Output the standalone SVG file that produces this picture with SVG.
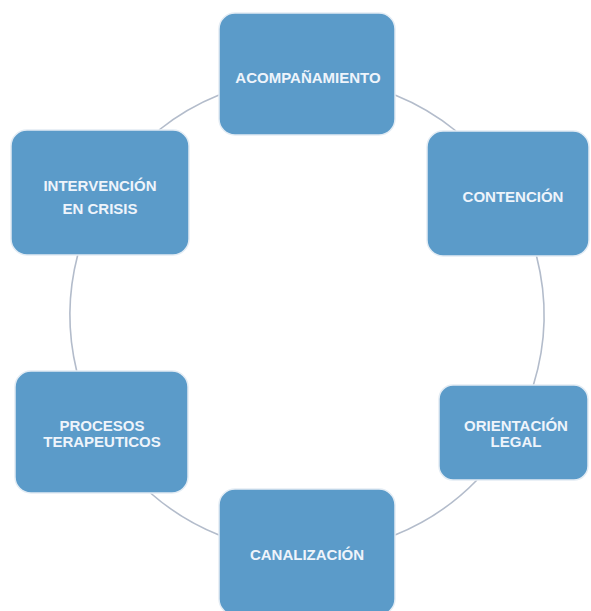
<svg xmlns="http://www.w3.org/2000/svg" width="591" height="611" viewBox="0 0 591 611">
  <style>
    .box { fill: #5b9bc9; stroke: #e3ecf4; stroke-width: 1.5; }
    .lbl { font-family: "Liberation Sans", Arial, sans-serif; font-weight: bold; font-size: 15px; fill: #eef4fb; text-anchor: middle; dominant-baseline: central; }
    .arc { fill: none; stroke: #b3bccb; stroke-width: 1.6; }
  </style>
  <rect width="591" height="611" fill="#ffffff"/>
  <g id="connectors">
    <path class="arc" d="M159,130 A237,237 0 0 1 219,95"/>
    <path class="arc" d="M395,95 A237,237 0 0 1 456,131"/>
    <path class="arc" d="M536.5,256 A237,237 0 0 1 533.4,385"/>
    <path class="arc" d="M477,480 A237,237 0 0 1 395,535"/>
    <path class="arc" d="M219,535 A237,237 0 0 1 150.5,493"/>
    <path class="arc" d="M76.7,371 A237,237 0 0 1 77.7,255"/>
  </g>
  <g id="acompanamiento">
    <rect class="box" x="219" y="13" width="176" height="122" rx="16"/>
    <text class="lbl" x="308" y="77">ACOMPAÑAMIENTO</text>
  </g>
  <g id="contencion">
    <rect class="box" x="427" y="131" width="162" height="125" rx="16"/>
    <text class="lbl" x="513" y="196">CONTENCIÓN</text>
  </g>
  <g id="orientacion-legal">
    <rect class="box" x="439" y="385" width="149" height="95" rx="14"/>
    <text class="lbl" x="516" y="425">ORIENTACIÓN</text>
    <text class="lbl" x="516" y="441">LEGAL</text>
  </g>
  <g id="canalizacion">
    <rect class="box" x="219" y="489" width="176" height="126" rx="16"/>
    <text class="lbl" x="307" y="554">CANALIZACIÓN</text>
  </g>
  <g id="procesos-terapeuticos">
    <rect class="box" x="15" y="371" width="173" height="122" rx="16"/>
    <text class="lbl" x="102" y="425">PROCESOS</text>
    <text class="lbl" x="102" y="441">TERAPEUTICOS</text>
  </g>
  <g id="intervencion-en-crisis">
    <rect class="box" x="11" y="130" width="178" height="125" rx="16"/>
    <text class="lbl" x="100" y="185">INTERVENCIÓN</text>
    <text class="lbl" x="100" y="208">EN CRISIS</text>
  </g>
</svg>
